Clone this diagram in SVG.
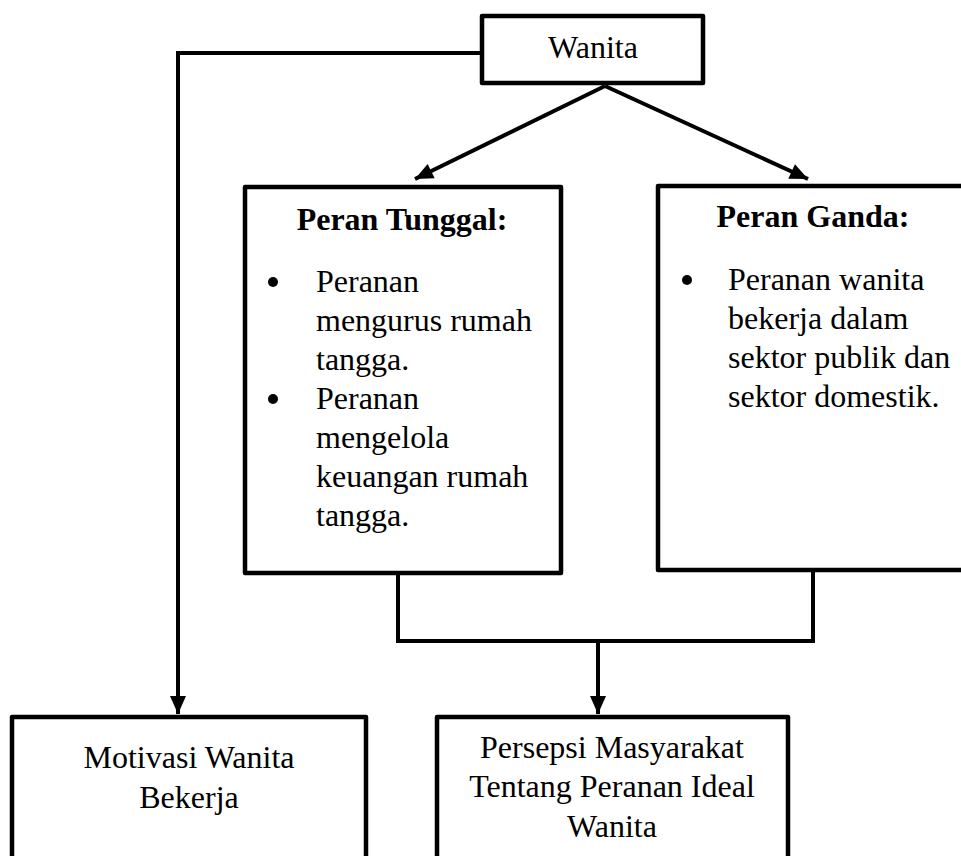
<svg xmlns="http://www.w3.org/2000/svg" width="961" height="856" viewBox="0 0 961 856">
<defs>
<marker id="ah" markerUnits="userSpaceOnUse" markerWidth="20" markerHeight="20" viewBox="0 0 20 20" refX="19" refY="10" orient="auto">
<path d="M1,2 L19,10 L1,18 Z" fill="#000"/>
</marker>
</defs>
<style>
.box{fill:#fff;stroke:#000;stroke-width:4.5;stroke-linejoin:round}
.ln{fill:none;stroke:#000;stroke-width:4}
text{font-family:"Liberation Serif","Times New Roman",serif;font-size:32px;fill:#000}
.c{text-anchor:middle}
.b{font-weight:bold}
</style>
<rect width="961" height="856" fill="#fff"/>
<g id="connectors">
<path class="ln" d="M482,53 H178 V714" marker-end="url(#ah)"/>
<path class="ln" d="M605,86 L415,179" marker-end="url(#ah)"/>
<path class="ln" d="M605,86 L808,179" marker-end="url(#ah)"/>
<path class="ln" d="M398,573 V641 H813 V570"/>
<path class="ln" d="M598,641 V714" marker-end="url(#ah)"/>
</g>
<g id="wanita">
<rect class="box" x="482" y="16" width="221" height="67"/>
<text class="c" x="593" y="58">Wanita</text>
</g>
<g id="peran-tunggal">
<rect class="box" x="245" y="187" width="316" height="386"/>
<text class="b c" x="402" y="230">Peran Tunggal:</text>
<circle cx="273" cy="282" r="5"/>
<text x="316" y="292">Peranan</text>
<text x="316" y="331">mengurus rumah</text>
<text x="316" y="370">tangga.</text>
<circle cx="273" cy="399" r="5"/>
<text x="316" y="409">Peranan</text>
<text x="316" y="448">mengelola</text>
<text x="316" y="487">keuangan rumah</text>
<text x="316" y="526">tangga.</text>
</g>
<g id="peran-ganda">
<rect class="box" x="658" y="186" width="320" height="384"/>
<text class="b c" x="813" y="227">Peran Ganda:</text>
<circle cx="687" cy="280" r="5"/>
<text x="728" y="290">Peranan wanita</text>
<text x="728" y="329">bekerja dalam</text>
<text x="728" y="368">sektor publik dan</text>
<text x="728" y="407">sektor domestik.</text>
</g>
<g id="motivasi">
<rect class="box" x="12" y="717" width="354" height="160"/>
<text class="c" x="189" y="768">Motivasi Wanita</text>
<text class="c" x="189" y="808">Bekerja</text>
</g>
<g id="persepsi">
<rect class="box" x="437" y="717" width="351" height="160"/>
<text class="c" x="612" y="758">Persepsi Masyarakat</text>
<text class="c" x="612" y="797">Tentang Peranan Ideal</text>
<text class="c" x="612" y="837">Wanita</text>
</g>
</svg>
